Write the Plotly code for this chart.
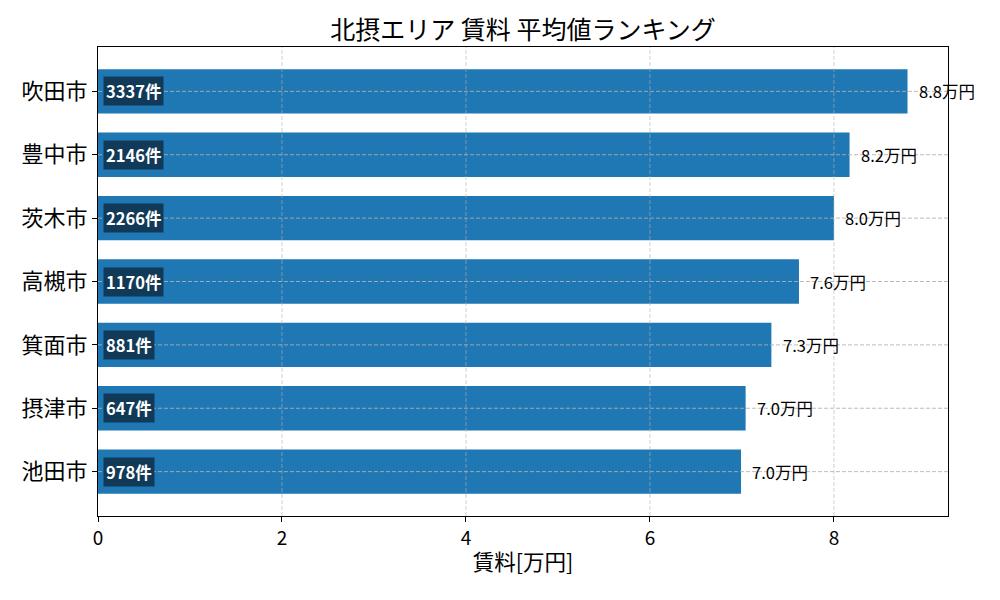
import plotly.graph_objects as go

cities = ["吹田市", "豊中市", "茨木市", "高槻市", "箕面市", "摂津市", "池田市"]
rent = [8.80, 8.17, 8.00, 7.62, 7.32, 7.04, 6.99]
counts = [3337, 2146, 2266, 1170, 881, 647, 978]
rent_labels = ["8.8万円", "8.2万円", "8.0万円", "7.6万円", "7.3万円", "7.0万円", "7.0万円"]
x_ticks = [0, 2, 4, 6, 8]

FONT = "Noto Sans CJK JP"

# plot bottom-to-top so first city is at top
yc = list(reversed(cities))
xr = list(reversed(rent))
cr = list(reversed(counts))
lr = list(reversed(rent_labels))

fig = go.Figure()
fig.add_trace(go.Bar(
    y=yc, x=xr, orientation="h", width=0.7,
    marker=dict(color="#1f77b4", line=dict(width=0)),
    hoverinfo="skip", showlegend=False,
))

annotations = []
shapes = []
# vertical grid lines (drawn above bars, semi-transparent)
for t in x_ticks[1:]:
    shapes.append(dict(
        type="line", xref="x", x0=t, x1=t, yref="paper", y0=0, y1=1,
        line=dict(color="rgba(176,176,176,0.6)", width=1, dash="4px,2px"),
        layer="above",
    ))
for c, v, n, lab in zip(yc, xr, cr, lr):
    annotations.append(dict(
        x=v + 0.1, y=c, xref="x", yref="y", text=lab, showarrow=False,
        xanchor="left", yanchor="middle",
        font=dict(family=FONT, size=16.5, color="black"),
    ))
    annotations.append(dict(
        x=0.055, y=c, xref="x", yref="y", text="<b>%d件</b>" % n, showarrow=False,
        xanchor="left", yanchor="middle",
        font=dict(family=FONT, size=16.5, color="white"),
        bgcolor="#113a58", borderpad=2,
    ))
    shapes.append(dict(
        type="line", xref="paper", x0=0, x1=1, yref="y", y0=c, y1=c,
        line=dict(color="rgba(176,176,176,0.85)", width=1, dash="4px,2px"),
        layer="above",
    ))

fig.update_layout(
    width=1000, height=600,
    margin=dict(l=90, r=60, t=39, b=92, autoexpand=False),
    paper_bgcolor="white", plot_bgcolor="white",
    font=dict(family=FONT, color="black"),
    title=dict(text="北摂エリア 賃料 平均値ランキング", x=0.515, xanchor="center",
               y=0.963, yanchor="middle", font=dict(family=FONT, size=25, color="black")),
    xaxis=dict(
        range=[0, 9.24], tickvals=x_ticks, ticks="outside", ticklen=5, tickcolor="black",
        showline=True, linecolor="black", linewidth=1.2, mirror=True,
        showgrid=False, zeroline=False, tickfont=dict(family=FONT, size=19), automargin=False,
        title=dict(text="賃料[万円]", font=dict(family=FONT, size=21.5), standoff=6),
    ),
    yaxis=dict(
        range=[-0.7, 6.7], ticks="outside", ticklen=5, tickcolor="black",
        showline=True, linecolor="black", linewidth=1.2, mirror=True,
        showgrid=False, zeroline=False, tickfont=dict(family=FONT, size=22),
        automargin=False,
    ),
    annotations=annotations, shapes=shapes,
)

fig.write_html("out.html")
